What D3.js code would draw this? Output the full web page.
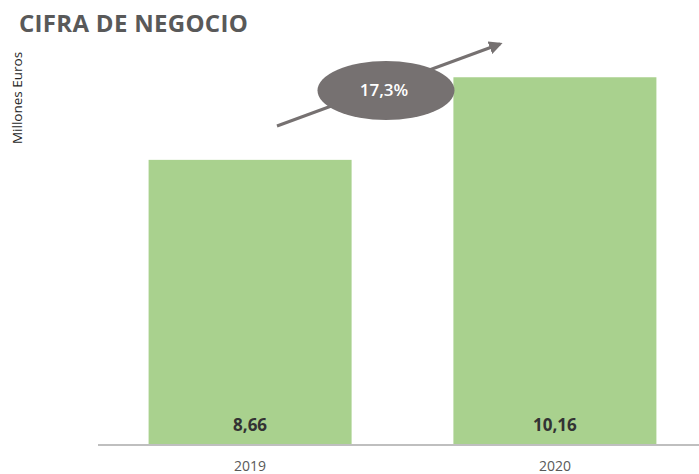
<!DOCTYPE html>
<html><head><meta charset="utf-8">
<script src="https://cdn.jsdelivr.net/npm/d3@7"></script>
<style>html,body{margin:0;padding:0;background:#fff;}svg{display:block;}</style>
</head><body>
<script>
const title = "CIFRA DE NEGOCIO";
const yLabel = "Millones Euros";
const categories = ["2019", "2020"];
const values = [8.66, 10.16];
const valueLabels = ["8,66", "10,16"];
const growthLabel = "17,3%";

const W = 699, H = 474;
const svg = d3.select("body").append("svg").attr("width", W).attr("height", H);

const x = d3.scaleBand().domain(categories).range([98, 707]).paddingInner(0.334).paddingOuter(0.166);
const y = d3.scaleLinear().domain([3.5, 11]).range([444, 31]);

svg.append("text").attr("x", 19).attr("y", 32)
  .attr("font-family", "Open Sans").attr("font-weight", "bold").attr("font-size", 24)
  .attr("letter-spacing", 0.3).attr("fill", "#595959").text(title);

svg.append("text").attr("transform", "translate(22,98) rotate(-90)")
  .attr("text-anchor", "middle").attr("font-family", "Open Sans").attr("font-size", 13.5)
  .attr("fill", "#262626").text(yLabel);

svg.selectAll("rect.bar").data(values).join("rect").attr("class", "bar")
  .attr("x", (d, i) => x(categories[i])).attr("width", x.bandwidth())
  .attr("y", d => y(d)).attr("height", d => y(3.5) - y(d)).attr("fill", "#A9D18E");

svg.append("line").attr("x1", 98).attr("x2", 699).attr("y1", 445).attr("y2", 445)
  .attr("stroke", "#BFBFBF").attr("stroke-width", 2);

svg.selectAll("text.val").data(valueLabels).join("text").attr("class", "val")
  .attr("x", (d, i) => x(categories[i]) + x.bandwidth() / 2).attr("y", 431)
  .attr("text-anchor", "middle").attr("font-family", "Open Sans").attr("font-weight", "bold")
  .attr("font-size", 17).attr("fill", "#333333").text(d => d);

svg.selectAll("text.cat").data(categories).join("text").attr("class", "cat")
  .attr("x", d => x(d) + x.bandwidth() / 2).attr("y", 471)
  .attr("text-anchor", "middle").attr("font-family", "Open Sans")
  .attr("font-size", 14).attr("fill", "#595959").text(d => d);

// growth arrow
const defs = svg.append("defs");
defs.append("marker").attr("id", "ah").attr("viewBox", "0 0 10 10").attr("refX", 8).attr("refY", 5)
  .attr("markerWidth", 4.5).attr("markerHeight", 4.5).attr("orient", "auto")
  .append("path").attr("d", "M0,0 L10,5 L0,10 z").attr("fill", "#767171");
svg.append("line").attr("x1", 277).attr("y1", 126).attr("x2", 500).attr("y2", 44)
  .attr("stroke", "#767171").attr("stroke-width", 3).attr("marker-end", "url(#ah)");
svg.append("ellipse").attr("cx", 386).attr("cy", 90.5).attr("rx", 68.5).attr("ry", 29.5)
  .attr("fill", "#767171");
svg.append("text").attr("x", 384).attr("y", 96).attr("text-anchor", "middle")
  .attr("font-family", "Open Sans").attr("font-weight", 600).attr("font-size", 17)
  .attr("fill", "#ffffff").text(growthLabel);
</script>
</body></html>
